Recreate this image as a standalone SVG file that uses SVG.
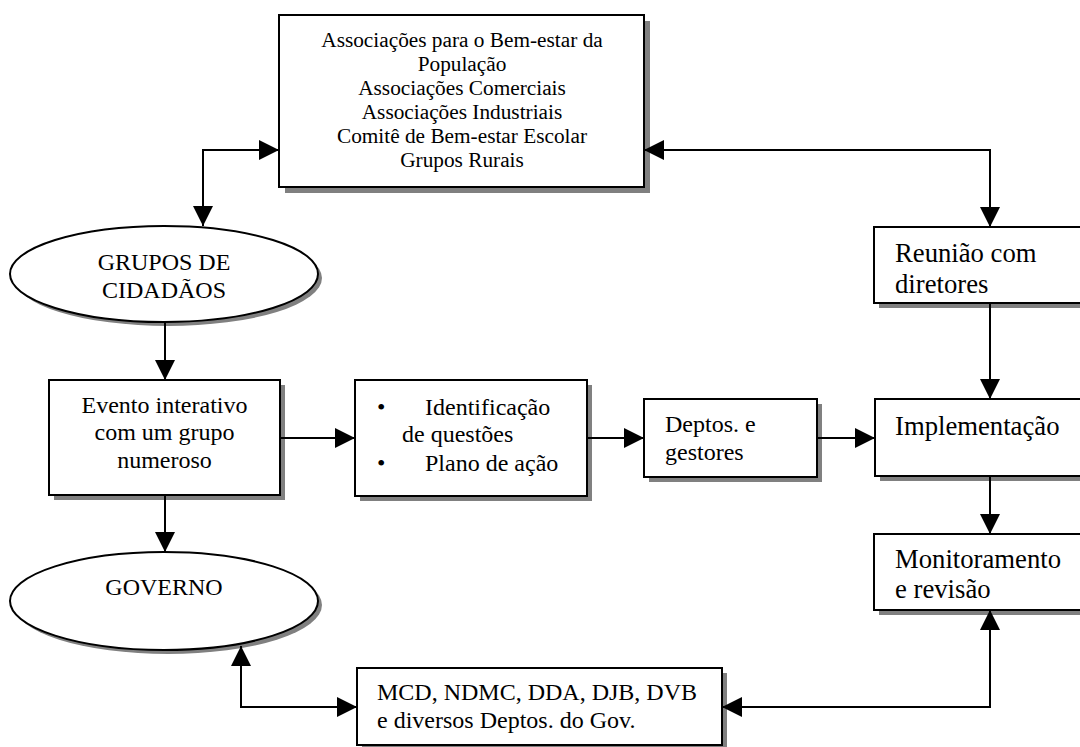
<svg xmlns="http://www.w3.org/2000/svg" width="1080" height="747" viewBox="0 0 1080 747">
<style>
  .box { fill: #ffffff; stroke: #000000; stroke-width: 2; }
  .shadow { fill: #808080; stroke: none; }
  .conn { fill: none; stroke: #000000; stroke-width: 2; }
  text { font-family: "Liberation Serif", "Times New Roman", serif; fill: #000000; }
  .s16 { font-size: 21.3px; }
  .s18 { font-size: 24px; }
  .s20 { font-size: 26.7px; }
  .mid { text-anchor: middle; }
</style>
<defs>
  <marker id="ah" viewBox="0 0 20 20" refX="20" refY="10" markerWidth="20" markerHeight="20" markerUnits="userSpaceOnUse" orient="auto-start-reverse">
    <path d="M0,0 L20,10 L0,20 z" fill="#000000"/>
  </marker>
</defs>
<rect width="1080" height="747" fill="#ffffff"/>

<g id="associacoes">
  <rect class="shadow" x="285" y="21" width="365" height="172"/>
  <rect class="box" x="279" y="15" width="365" height="172"/>
  <text class="s16 mid" x="462" y="47">Associações para o Bem-estar da</text>
  <text class="s16 mid" x="462" y="71">População</text>
  <text class="s16 mid" x="462" y="95">Associações Comerciais</text>
  <text class="s16 mid" x="462" y="119">Associações Industriais</text>
  <text class="s16 mid" x="462" y="143">Comitê de Bem-estar Escolar</text>
  <text class="s16 mid" x="462" y="167">Grupos Rurais</text>
</g>

<g id="grupos">
  <ellipse class="shadow" cx="168" cy="278" rx="154" ry="48"/>
  <ellipse class="box" cx="164" cy="274" rx="154" ry="48"/>
  <text class="s18 mid" x="164" y="270">GRUPOS DE</text>
  <text class="s18 mid" x="164" y="298">CIDADÃOS</text>
</g>

<g id="evento">
  <rect class="shadow" x="54" y="385" width="231" height="115"/>
  <rect class="box" x="49" y="380" width="231" height="115"/>
  <text class="s18 mid" x="164.5" y="413">Evento interativo</text>
  <text class="s18 mid" x="164.5" y="440">com um grupo</text>
  <text class="s18 mid" x="164.5" y="468">numeroso</text>
</g>

<g id="identificacao">
  <rect class="shadow" x="360" y="385" width="232" height="116"/>
  <rect class="box" x="355" y="380" width="232" height="116"/>
  <text class="s18" x="377" y="415">•</text>
  <text class="s18" x="425" y="415">Identificação</text>
  <text class="s18" x="402" y="442">de questões</text>
  <text class="s18" x="377" y="471">•</text>
  <text class="s18" x="425" y="471">Plano de ação</text>
</g>

<g id="deptos">
  <rect class="shadow" x="649" y="404" width="173" height="78"/>
  <rect class="box" x="644" y="399" width="173" height="78"/>
  <text class="s18" x="665" y="432">Deptos. e</text>
  <text class="s18" x="665" y="460">gestores</text>
</g>

<g id="reuniao">
  <rect class="shadow" x="879" y="232" width="220" height="76"/>
  <rect class="box" x="874" y="227" width="220" height="76"/>
  <text class="s20" x="895" y="262">Reunião com</text>
  <text class="s20" x="895" y="293">diretores</text>
</g>

<g id="implementacao">
  <rect class="shadow" x="880" y="404" width="220" height="77"/>
  <rect class="box" x="875" y="399" width="220" height="77"/>
  <text class="s20" x="895" y="435">Implementação</text>
</g>

<g id="monitoramento">
  <rect class="shadow" x="879" y="539" width="220" height="76"/>
  <rect class="box" x="874" y="534" width="220" height="76"/>
  <text class="s20" x="895" y="568">Monitoramento</text>
  <text class="s20" x="895" y="598">e revisão</text>
</g>

<g id="governo">
  <ellipse class="shadow" cx="168" cy="605" rx="154" ry="49"/>
  <ellipse class="box" cx="164" cy="601" rx="154" ry="49"/>
  <text class="s18 mid" x="164" y="595">GOVERNO</text>
</g>

<g id="mcd">
  <rect class="shadow" x="362" y="673" width="365" height="77"/>
  <rect class="box" x="357" y="668" width="365" height="77"/>
  <text class="s18" x="377" y="700">MCD, NDMC, DDA, DJB, DVB</text>
  <text class="s18" x="377" y="728">e diversos Deptos. do Gov.</text>
</g>

<g id="connectors">
  <path class="conn" d="M203,226 V150 H279" marker-start="url(#ah)" marker-end="url(#ah)"/>
  <path class="conn" d="M644,150 H990 V227" marker-start="url(#ah)" marker-end="url(#ah)"/>
  <path class="conn" d="M165,322 V380" marker-end="url(#ah)"/>
  <path class="conn" d="M280,438 H355" marker-end="url(#ah)"/>
  <path class="conn" d="M587,438 H644" marker-end="url(#ah)"/>
  <path class="conn" d="M817,438 H875" marker-end="url(#ah)"/>
  <path class="conn" d="M990,303 V399" marker-end="url(#ah)"/>
  <path class="conn" d="M990,476 V534" marker-end="url(#ah)"/>
  <path class="conn" d="M165,495 V552" marker-end="url(#ah)"/>
  <path class="conn" d="M722,707 H990 V610" marker-start="url(#ah)" marker-end="url(#ah)"/>
  <path class="conn" d="M241,646 V707 H357" marker-start="url(#ah)" marker-end="url(#ah)"/>
</g>
</svg>
